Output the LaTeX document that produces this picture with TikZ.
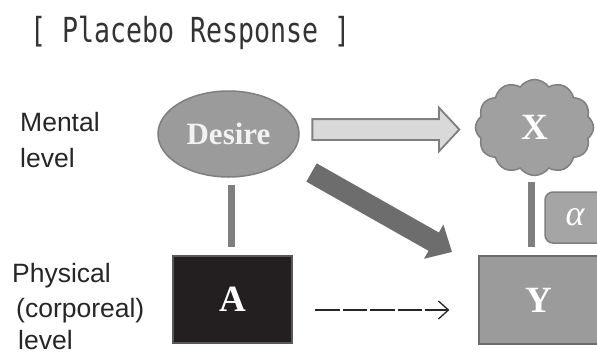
\documentclass[tikz,border=0pt]{standalone}
\usepackage{fontspec}
\setmainfont{Liberation Serif}
\newfontfamily\labelfont{Liberation Sans}
\newfontfamily\titlefont{DejaVu Sans Mono}
\usetikzlibrary{shapes.geometric,shapes.symbols,shapes.arrows,arrows.meta}
\definecolor{boxgray}{HTML}{9B9B9B}
\definecolor{edgegray}{HTML}{7F7F7F}
\definecolor{lightfill}{HTML}{D9D9D9}
\definecolor{darkarrow}{HTML}{6D6D6D}
\definecolor{nearblack}{HTML}{231F20}
\definecolor{titlegray}{HTML}{333333}
\tikzset{
  lvl/.style={inner sep=0pt, anchor=base west, font=\labelfont\fontsize{26.5}{30}\selectfont, text=black!85},
  letter/.style={text=white, font=\fontsize{37}{40}\selectfont\bfseries},
  vline/.style={draw=edgegray, line width=7pt},
}
\begin{document}
\begin{tikzpicture}[x=1pt,y=-1pt]
\clip (0,0) rectangle (597,354);
\fill[white] (0,0) rectangle (597,354);
% title
\node[inner sep=0pt, anchor=base west, text=titlegray] (title) at (30,42)
  {\scalebox{0.77}[1]{\titlefont\fontsize{34.5}{36}\selectfont [ Placebo Response ]}};
% level labels
\node[lvl] (m1) at (20,131) {Mental};
\node[lvl] (m2) at (20,167) {level};
\node[lvl] (p1) at (12,282) {Physical};
\node[lvl] (p2) at (16,317) {(corporeal)};
\node[lvl] (p3) at (18,349) {level};
% nodes
\node[ellipse, draw=edgegray, line width=1.5pt, fill=boxgray, minimum width=141pt, minimum height=86pt, inner sep=0pt,
      text=white!95!black, font=\fontsize{31}{34}\selectfont\bfseries] (desire) at (228.5,134) {Desire};
\node[cloud, cloud puffs=12, cloud puff arc=110, cloud ignores aspect, draw=edgegray, line width=1.5pt, fill=boxgray!95!white,
      minimum width=118pt, minimum height=96pt, inner sep=0pt, letter] (X) at (534.5,127.5) {X};
\node[draw=nearblack!40!gray, line width=2pt, fill=nearblack, minimum width=119pt, minimum height=87pt, inner sep=0pt, letter] (A) at (232.5,299.5) {A};
\node[draw=gray!85!black, line width=1.2pt, fill=boxgray, minimum width=120pt, minimum height=88pt, inner sep=0pt, letter] (Y) at (539,300) {\raisebox{-3pt}{Y}};
\node[draw=edgegray, line width=1.5pt, fill=boxgray!90!white, rounded corners=8pt, minimum width=60pt, minimum height=51pt, inner sep=0pt,
      text=white, font=\fontsize{36}{38}\selectfont\itshape] (alpha) at (575,217.5) {α};
% light arrow Desire -> X
\node[single arrow, draw=edgegray, line width=1.8pt, fill=lightfill, minimum height=147pt, minimum width=42pt,
      single arrow head extend=11.5pt, single arrow tip angle=94, inner xsep=0pt, inner ysep=9.5pt] (lightarrow) at (381,129.5) {};
% dark arrow Desire -> Y
\coordinate (d1) at (311.5,172.5);
\coordinate (d2) at (452,252);
\draw[darkarrow, line width=21pt, -{Triangle[length=21pt,width=38pt]}] (d1) -- (d2);
% vertical connectors
\draw[vline, shorten <=7pt, shorten >=8pt] ([xshift=-1pt]A.north |- desire.south) -- ([xshift=-1pt]A.north);
\draw[vline, shorten <=6pt, shorten >=8pt] ([xshift=-3pt]X.south) -- ([xshift=-3pt]X.south |- Y.north);
% dashed arrow A -> Y
\draw[black!85, line width=1.3pt, dash pattern=on 24.5pt off 3pt, shorten <=22pt, shorten >=29pt,
      -{Straight Barb[length=10pt,width=18pt,line width=1.3pt]}]
  ([yshift=-10.5pt]A.east) -- ([yshift=-10.5pt]A.east -| Y.west);
\end{tikzpicture}
\end{document}
